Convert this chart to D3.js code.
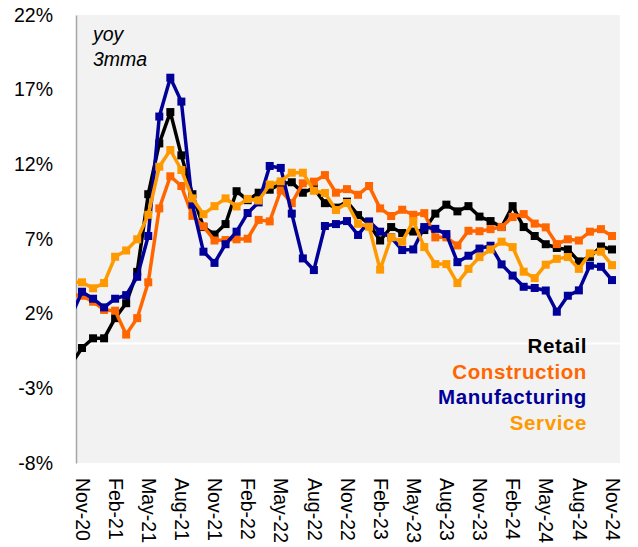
<!DOCTYPE html>
<html>
<head>
<meta charset="utf-8">
<script src="https://cdn.jsdelivr.net/npm/d3@7"></script>
<style>
  html, body { margin: 0; padding: 0; background: #ffffff; }
  svg { display: block; font-family: "Liberation Sans", Arial, sans-serif; }
</style>
</head>
<body>
<svg id="chart" width="638" height="547"></svg>
<script>
// Month index: -1 = Oct-20 (clipped at the axis), 0 = Nov-20 ... 48 = Nov-24
const monthIndex = d3.range(-1, 49);

const tickLabels = ["Nov-20","Feb-21","May-21","Aug-21","Nov-21","Feb-22","May-22","Aug-22",
  "Nov-22","Feb-23","May-23","Aug-23","Nov-23","Feb-24","May-24","Aug-24","Nov-24"];
const tickIndex = [0,3,6,9,12,15,18,21,24,27,30,33,36,39,42,45,48];

const yTicks = [-8, -3, 2, 7, 12, 17, 22];

const retail = [-1.4, -0.3, 0.35, 0.35, 1.7, 2.7, 4.8, 10.0, 13.4, 15.5, 12.6, 10.0, 7.8, 7.3, 8.0,
  10.2, 9.6, 10.1, 10.3, 10.7, 10.8, 10.1, 10.4, 9.4, 9.1, 9.5, 8.6, 8.0, 6.9, 7.8, 7.4, 7.5, 7.6,
  8.7, 9.3, 8.85, 9.2, 8.5, 8.2, 7.8, 9.2, 7.8, 7.2, 6.65, 6.4, 6.3, 5.5, 5.8, 6.5, 6.3];

const construction = [3.3, 3.2, 2.8, 2.25, 2.2, 0.6, 1.7, 4.1, 9.05, 11.2, 10.55, 8.55, 7.85, 6.9,
  6.93, 6.98, 7.02, 8.28, 8.18, 10.25, 9.4, 10.73, 10.84, 11.28, 10.1, 10.34, 9.96, 10.55, 9.05,
  8.54, 8.96, 8.62, 8.73, 7.11, 7.11, 6.57, 7.55, 7.52, 7.66, 7.8, 8.47, 8.67, 8.03, 7.78, 6.66,
  6.98, 6.9, 7.49, 7.66, 7.2];

const manufacturing = [1.8, 3.47, 3.0, 2.42, 3.0, 3.24, 4.47, 7.2, 15.2, 17.8, 16.2, 9.3, 6.15, 5.4,
  6.65, 7.49, 8.74, 9.45, 11.89, 11.76, 8.7, 5.7, 4.92, 7.87, 8.0, 8.2, 7.27, 8.18, 7.49, 7.11,
  6.26, 6.3, 7.8, 7.68, 7.33, 5.45, 5.88, 6.36, 6.55, 5.3, 4.55, 3.8, 3.72, 3.55, 2.13, 3.2, 3.56,
  5.22, 5.14, 4.25];

const service = [4.1, 4.1, 3.7, 4.05, 5.81, 6.23, 6.98, 8.62, 11.84, 12.96, 11.62, 9.72, 8.66, 9.2,
  9.72, 9.18, 9.68, 9.58, 10.64, 10.86, 11.44, 11.44, 10.23, 10.08, 8.94, 9.41, 8.02, 7.82, 4.95,
  7.11, 6.82, 8.2, 6.46, 5.32, 5.32, 4.05, 5.0, 5.79, 6.3, 6.82, 6.46, 4.81, 4.38, 5.28, 5.67,
  5.79, 5.0, 6.04, 6.15, 5.25];

const seriesNames = ["Retail", "Construction", "Manufacturing", "Service"];
const seriesValues = [retail, construction, manufacturing, service];
const seriesColors = ["#000000", "#FF6600", "#000099", "#FF9900"];

const svg = d3.select("#chart");
const plot = { left: 76, right: 620, top: 15, bottom: 463 };

const x = d3.scaleLinear().domain([0, 48]).range([82, 612]);
const y = d3.scaleLinear().domain([-8, 22]).range([plot.bottom, plot.top]);

svg.append("defs").append("clipPath").attr("id", "clip")
  .append("rect")
  .attr("x", plot.left).attr("y", 0)
  .attr("width", plot.right - plot.left).attr("height", 547);

// plot background
svg.append("rect")
  .attr("x", plot.left).attr("y", plot.top)
  .attr("width", plot.right - plot.left).attr("height", plot.bottom - plot.top)
  .attr("fill", "#f2f2f2");

// white zero line
svg.append("line")
  .attr("x1", plot.left).attr("x2", plot.right)
  .attr("y1", y(0)).attr("y2", y(0))
  .attr("stroke", "#ffffff").attr("stroke-width", 2);

// y axis
const yAxis = svg.append("g")
  .attr("transform", `translate(${plot.left},0)`)
  .call(d3.axisLeft(y).tickValues(yTicks).tickFormat(d => d + "%").tickSize(0).tickPadding(23).tickSizeOuter(0));
yAxis.select(".domain").attr("stroke", "#a6a6a6").attr("stroke-width", 1.5);
yAxis.selectAll("text").attr("font-size", 19.5).attr("fill", "#000").attr("font-family", "Liberation Sans, Arial, sans-serif");

// x axis
const xAxis = svg.append("g")
  .attr("transform", `translate(0,${plot.bottom})`)
  .call(d3.axisBottom(x).tickValues(tickIndex).tickFormat((d, i) => tickLabels[i]).tickSize(0));
xAxis.select(".domain").remove();
xAxis.selectAll("text")
  .attr("font-size", 19.5).attr("fill", "#000")
  .attr("font-family", "Liberation Sans, Arial, sans-serif")
  .attr("transform", "rotate(90)")
  .attr("x", 15).attr("y", 0).attr("dy", "0.35em")
  .attr("text-anchor", "start");

// annotation
svg.append("text").attr("x", 93).attr("y", 41)
  .attr("font-size", 19.5).attr("font-style", "italic").text("yoy");
svg.append("text").attr("x", 93).attr("y", 66)
  .attr("font-size", 19.5).attr("font-style", "italic").text("3mma");

// series
const line = d3.line().x(d => x(d[0])).y(d => y(d[1]));
const gSeries = svg.append("g").attr("clip-path", "url(#clip)");
seriesValues.forEach((vals, k) => {
  const pts = monthIndex.map((m, i) => [m, vals[i]]);
  gSeries.append("path")
    .datum(pts)
    .attr("d", line)
    .attr("fill", "none")
    .attr("stroke", seriesColors[k])
    .attr("stroke-width", 3.5)
    .attr("stroke-linejoin", "round");
  gSeries.selectAll(null)
    .data(pts)
    .enter().append("rect")
    .attr("x", d => x(d[0]) - 4)
    .attr("y", d => y(d[1]) - 4)
    .attr("width", 8).attr("height", 8)
    .attr("fill", seriesColors[k]);
});

// legend
const legendY = [353, 379, 404, 430];
seriesNames.forEach((name, k) => {
  svg.append("text")
    .attr("x", 587).attr("y", legendY[k])
    .attr("text-anchor", "end")
    .attr("font-size", 20.5).attr("font-weight", "bold")
    .attr("letter-spacing", 0.6)
    .attr("fill", seriesColors[k])
    .text(name);
});
</script>
</body>
</html>
